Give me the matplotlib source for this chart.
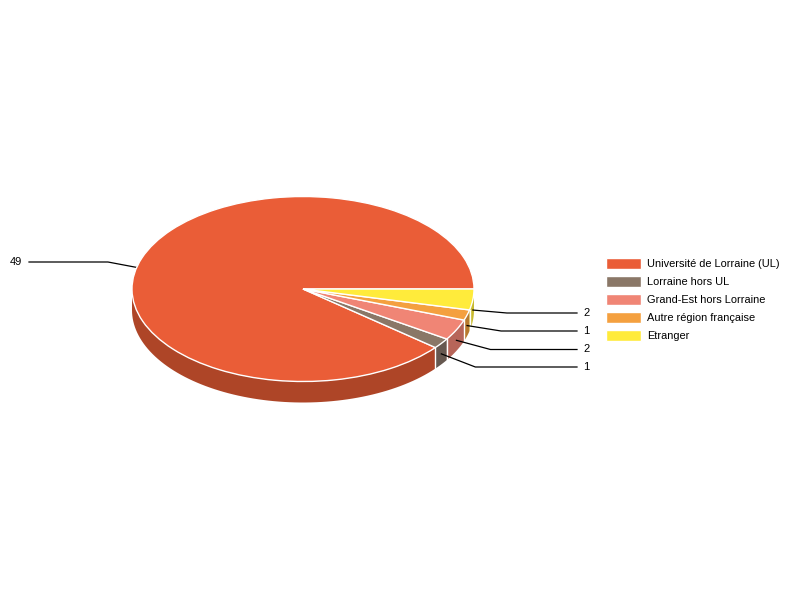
import numpy as np
import matplotlib
matplotlib.use("Agg")
import matplotlib.pyplot as plt

plt.rcParams['font.family'] = ['Liberation Sans', 'DejaVu Sans']

categories = ["Université de Lorraine (UL)", "Lorraine hors UL", "Grand-Est hors Lorraine",
              "Autre région française", "Etranger"]
values = [49, 1, 2, 1, 2]
colors = ["#EA5D37", "#8A7767", "#F08575", "#F4A03F", "#FFEB3B"]
wall_colors = ["#AE4527", "#665850", "#B76559", "#B87A2E", "#C9BB30"]

# pie placement on the 800x600 canvas, in pixels
cx, cy, rx, ry, depth = 303, 289, 171, 92.5, 21
label_y = [262, 367, 349.5, 331, 313]   # leader rows, pixels from top

fig = plt.figure(figsize=(8, 6), dpi=100)
ax = fig.add_axes([0, 0, 1, 1])

wedges, _ = ax.pie(values, colors=colors, startangle=0, radius=1,
                   wedgeprops={"edgecolor": "white", "linewidth": 1.0})
for w in wedges:
    w.set_zorder(3)

# radius 1 in data units becomes the ellipse rx / ry
ax.set_aspect("auto")
ax.set_xlim(-cx / rx, (800 - cx) / rx)
ax.set_ylim((cy - 600) / ry, cy / ry)
ax.axis("off")

d = depth / ry
edges = np.cumsum([0] + values) / sum(values) * 360

# side walls, only the front half can be seen
for i in range(len(values)):
    a, b = max(edges[i], 180), max(edges[i + 1], 180)
    if b > a:
        t = np.radians(np.linspace(a, b, 80))
        xs = np.concatenate([np.cos(t), np.cos(t[::-1])])
        ys = np.concatenate([np.sin(t), np.sin(t[::-1]) - d])
        ax.fill(xs, ys, color=wall_colors[i], lw=0, zorder=1)
for e in edges[1:-1]:
    if e > 180:
        t = np.radians(e)
        ax.plot([np.cos(t)] * 2, [np.sin(t), np.sin(t) - d], color="white", lw=1.0, zorder=2)

# leader lines run from the middle of each slice's wall to its label
for i, v in enumerate(values):
    mid = np.radians((edges[i] + edges[i + 1]) / 2)
    x0, y0 = np.cos(mid), np.sin(mid) - d / 2
    y1 = (cy - label_y[i]) / ry
    if x0 < 0:
        x1, x2 = x0 - 34 / rx, (29 - cx) / rx
        tx, ha = (22.5 - cx) / rx, "right"
    else:
        x1, x2 = x0 + 34 / rx, (577 - cx) / rx
        tx, ha = (583.5 - cx) / rx, "left"
    ax.plot([x0, x1, x2], [y0, y1, y1], color="black", lw=0.9, zorder=2)
    ax.text(tx, y1, str(v), ha=ha, va="center", fontsize=8, color="black")

ax.legend(wedges, categories, loc="upper left", bbox_to_anchor=(602 / 800, 1 - 254 / 600),
          frameon=False, fontsize=7.9, handlelength=3.14, handleheight=1.1,
          labelspacing=0.64, handletextpad=0.6, borderpad=0.4, borderaxespad=0)

fig.savefig("out.png", dpi=100)
